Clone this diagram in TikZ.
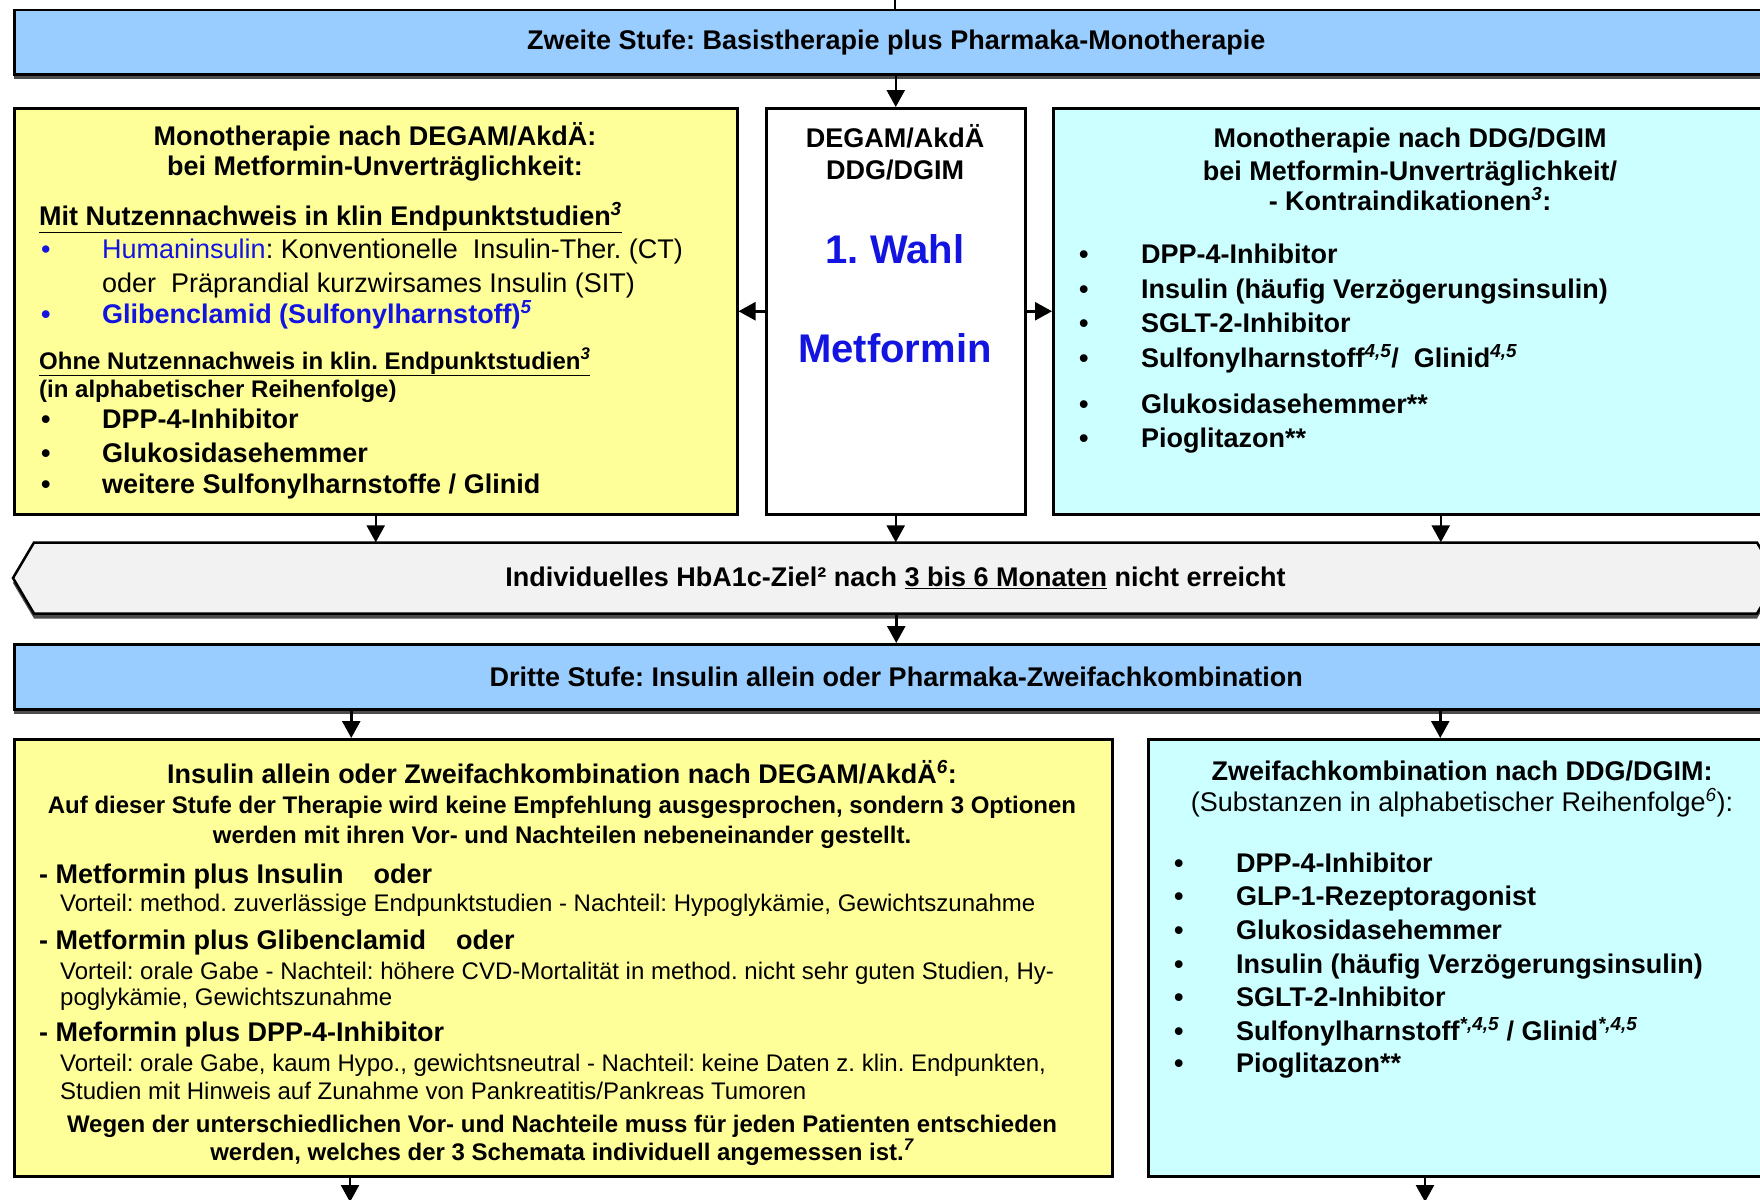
\documentclass[tikz,border=0pt]{standalone}
\usepackage{fontspec}
\setmainfont{Liberation Sans}
\usetikzlibrary{arrows.meta,shadows}
\definecolor{hdrblue}{RGB}{153,204,255}
\definecolor{boxyellow}{RGB}{255,255,153}
\definecolor{boxcyan}{RGB}{204,255,255}
\definecolor{bandgray}{RGB}{242,242,242}
\definecolor{txtblue}{RGB}{20,20,225}
\newcommand\supx[1]{\textsuperscript{\itshape #1}}
\newcommand\fsz[1]{\fontsize{#1}{#1}\selectfont}
\newcommand\bul[1]{\makebox[#1][l]{•}}
\frenchspacing
\begin{document}
\begin{tikzpicture}[x=1pt,y=-1pt,
  frame/.style={draw=black, line width=2.5pt, rectangle, anchor=north west, inner sep=0pt},
  shad/.style={drop shadow={shadow xshift=0pt, shadow yshift=-5pt, fill=black!70, opacity=1}},
  hdr/.style={frame, fill=hdrblue, shad, font=\fsz{27}\bfseries},
  arr/.style={line width=2.5pt, -{Triangle[length=17pt,width=18pt]}},
  tb/.style={inner sep=0pt, font=\fsz{27}\bfseries},
  tr/.style={inner sep=0pt, font=\fsz{27}},
  tsb/.style={inner sep=0pt, font=\fsz{24}\bfseries},
  tsr/.style={inner sep=0pt, font=\fsz{24}},
  tmb/.style={inner sep=0pt, font=\fsz{24}\bfseries},
  big/.style={inner sep=0pt, font=\fsz{40}\bfseries, text=txtblue},
]
\clip (0,0) rectangle (1760,1199);
\useasboundingbox (0,0) rectangle (1760,1199);
\fill[white] (0,0) rectangle (1760,1199);

% ---------- second stage ----------
\node[hdr, minimum width=1764pt, minimum height=64pt] (h2) at (13,9)
  {Zweite Stufe: Basistherapie plus Pharmaka-Monotherapie};
\coordinate (topin) at (895,0);

\node[frame, fill=boxyellow, minimum width=723pt, minimum height=406pt] (lbox) at (13,107) {};
\node[frame, fill=white, minimum width=259pt, minimum height=406pt] (mid) at (765,107) {};
\node[frame, fill=boxcyan, minimum width=725pt, minimum height=406pt] (rbox) at (1052,107) {};

% left box text
\node[tb, anchor=base] (l1) at (375,145) {Monotherapie nach DEGAM/AkdÄ:};
\node[tb, anchor=base] (l2) at (375,175) {bei Metformin-Unverträglichkeit:};
\node[tb, anchor=base west] (l3) at (39,225) {\underline{Mit Nutzennachweis in klin Endpunktstudien\supx{3}}};
\node[tr, anchor=base west] (l4) at (41,258) {\textcolor{txtblue}{\bul{61pt}Humaninsulin}: Konventionelle\ \ Insulin-Ther. (CT)};
\node[tr, anchor=base west] (l5) at (102,292) {oder\ \ Präprandial kurzwirsames Insulin (SIT)};
\node[tb, anchor=base west, text=txtblue] (l6) at (41,323) {\bul{61pt}Glibenclamid (Sulfonylharnstoff)\supx{5}};
\node[tmb, anchor=base west] (l7) at (39,369) {\underline{Ohne Nutzennachweis in klin. Endpunktstudien\supx{3}}};
\node[tmb, anchor=base west] (l8) at (39,397) {(in alphabetischer Reihenfolge)};
\node[tb, anchor=base west] (l9) at (41,428) {\bul{61pt}DPP-4-Inhibitor};
\node[tb, anchor=base west] (l10) at (41,462) {\bul{61pt}Glukosidasehemmer};
\node[tb, anchor=base west] (l11) at (41,493) {\bul{61pt}weitere Sulfonylharnstoffe / Glinid};

% middle box text
\node[tb, anchor=base] (m1) at (895,147) {DEGAM/AkdÄ};
\node[tb, anchor=base] (m2) at (895,179) {DDG/DGIM};
\node[big, anchor=base] (m3) at (895,263) {1. Wahl};
\node[big, anchor=base] (m4) at (895,362) {Metformin};

% right box text
\node[tb, anchor=base] (r1) at (1410,147) {Monotherapie nach DDG/DGIM};
\node[tb, anchor=base] (r2) at (1410,180) {bei Metformin-Unverträglichkeit/};
\node[tb, anchor=base] (r3) at (1410,210) {- Kontraindikationen\supx{3}:};
\node[tb, anchor=base west] (r4) at (1079,263) {\bul{62pt}DPP-4-Inhibitor};
\node[tb, anchor=base west] (r5) at (1079,298) {\bul{62pt}Insulin (häufig Verzögerungsinsulin)};
\node[tb, anchor=base west] (r6) at (1079,332) {\bul{62pt}SGLT-2-Inhibitor};
\node[tb, anchor=base west] (r7) at (1079,367) {\bul{62pt}Sulfonylharnstoff\supx{4,5}/\ \ Glinid\supx{4,5}};
\node[tb, anchor=base west] (r8) at (1079,413) {\bul{62pt}Glukosidasehemmer**};
\node[tb, anchor=base west] (r9) at (1079,447) {\bul{62pt}Pioglitazon**};

% band (double-pointed outline, text node on top)
\path[draw=black, line width=2.5pt, fill=bandgray, shad, line join=miter]
  (13,578) -- (34,542.5) -- (1757,542.5) -- (1778,578) -- (1757,613.5) -- (34,613.5) -- cycle;
\node[minimum width=1723pt, minimum height=71pt, inner sep=0pt, font=\fsz{27}\bfseries] (band) at (895.5,578)
  {Individuelles HbA1c-Ziel² nach \underline{3 bis 6 Monaten} nicht erreicht};

% third stage
\node[hdr, minimum width=1764pt, minimum height=65pt] (h3) at (13,643)
  {Dritte Stufe: Insulin allein oder Pharmaka-Zweifachkombination};

\node[frame, fill=boxyellow, minimum width=1098pt, minimum height=437pt] (lbb) at (13,738) {};
\node[frame, fill=boxcyan, minimum width=630pt, minimum height=437pt] (rbb) at (1147,738) {};

% bottom left text
\node[tb, anchor=base] (b1) at (562,783) {Insulin allein oder Zweifachkombination nach DEGAM/AkdÄ\supx{6}:};
\node[tsb, anchor=base] (b2) at (562,813) {Auf dieser Stufe der Therapie wird keine Empfehlung ausgesprochen, sondern 3 Optionen};
\node[tsb, anchor=base] (b3) at (562,843) {werden mit ihren Vor- und Nachteilen nebeneinander gestellt.};
\node[tb, anchor=base west] (b4) at (39,883) {- Metformin plus Insulin\hspace{30pt}oder};
\node[tsr, anchor=base west] (b5) at (60,911) {Vorteil: method. zuverlässige Endpunktstudien - Nachteil: Hypoglykämie, Gewichtszunahme};
\node[tb, anchor=base west] (b6) at (39,949) {- Metformin plus Glibenclamid\hspace{30pt}oder};
\node[tsr, anchor=base west] (b7) at (60,979) {Vorteil: orale Gabe - Nachteil: höhere CVD-Mortalität in method. nicht sehr guten Studien, Hy-};
\node[tsr, anchor=base west] (b8) at (60,1005) {poglykämie, Gewichtszunahme};
\node[tb, anchor=base west] (b9) at (39,1041) {- Meformin plus DPP-4-Inhibitor};
\node[tsr, anchor=base west] (b10) at (60,1071) {Vorteil: orale Gabe, kaum Hypo., gewichtsneutral - Nachteil: keine Daten z. klin. Endpunkten,};
\node[tsr, anchor=base west] (b11) at (60,1099) {Studien mit Hinweis auf Zunahme von Pankreatitis/Pankreas Tumoren};
\node[tsb, anchor=base] (b12) at (562,1132) {Wegen der unterschiedlichen Vor- und Nachteile muss für jeden Patienten entschieden};
\node[tsb, anchor=base] (b13) at (562,1160) {werden, welches der 3 Schemata individuell angemessen ist.\supx{7}};

% bottom right text
\node[tb, anchor=base] (c1) at (1462,780) {Zweifachkombination nach DDG/DGIM:};
\node[tr, anchor=base] (c2) at (1462,811) {(Substanzen in alphabetischer Reihenfolge\supx{6}):};
\node[tb, anchor=base west] (c3) at (1174,872) {\bul{62pt}DPP-4-Inhibitor};
\node[tb, anchor=base west] (c4) at (1174,905) {\bul{62pt}GLP-1-Rezeptoragonist};
\node[tb, anchor=base west] (c5) at (1174,939) {\bul{62pt}Glukosidasehemmer};
\node[tb, anchor=base west] (c6) at (1174,973) {\bul{62pt}Insulin (häufig Verzögerungsinsulin)};
\node[tb, anchor=base west] (c7) at (1174,1006) {\bul{62pt}SGLT-2-Inhibitor};
\node[tb, anchor=base west] (c8) at (1174,1040) {\bul{62pt}Sulfonylharnstoff\supx{*,4,5} / Glinid\supx{*,4,5}};
\node[tb, anchor=base west] (c9) at (1174,1072) {\bul{62pt}Pioglitazon**};

\coordinate (outl) at (350,1202);
\coordinate (outr) at (1425,1202);

% connectors
\draw[line width=2.5pt] (topin) -- (h2.north -| topin);
\draw[arr] (h2.south -| mid.north) -- (mid.north);
\draw[arr] (mid.west) -- (mid.west -| lbox.east);
\draw[arr] (mid.east) -- (mid.east -| rbox.west);
\draw[arr] (lbox.south) -- (lbox.south |- band.north);
\draw[arr] (mid.south) -- (mid.south |- band.north);
\draw[arr] ([xshift=25pt]rbox.south) -- ([xshift=25pt]rbox.south |- band.north);
\draw[arr] (band.south -| h3.north) -- (h3.north);
\draw[arr] ([xshift=-545pt]h3.south) -- ([xshift=-545pt]h3.south |- lbb.north);
\draw[arr] ([xshift=544pt]h3.south) -- ([xshift=544pt]h3.south |- rbb.north);
\draw[arr] (lbb.south -| outl) -- (outl);
\draw[arr] (rbb.south -| outr) -- (outr);
\end{tikzpicture}
\end{document}
